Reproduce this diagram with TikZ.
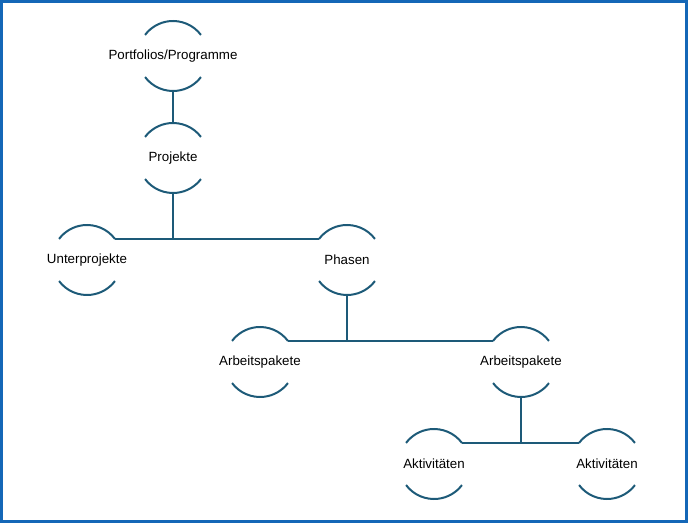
\documentclass[tikz,border=0pt]{standalone}
\usepackage{fontspec}
\setmainfont{Liberation Sans}
\usetikzlibrary{positioning, calc}
\definecolor{mTeal}{HTML}{1D5A78}
\definecolor{mFrame}{HTML}{1467B7}

\begin{document}
\begin{tikzpicture}[x=0.75pt, y=0.75pt,
    level/.style={font=\fontsize{10}{12}\selectfont, inner sep=1pt},
    conn/.style={mTeal, line width=1.5pt}]
  \useasboundingbox (0,0) rectangle (688,-523);
  \draw[mFrame, line width=2.2pt] (1.5,-1.5) rectangle (686.5,-521.5);

  % one row every 102px
  \node[level] (port)  at (173,-56)  {Portfolios/Programme};
  \node[level] (proj)  at (173,-158) {Projekte};
  \node[level] (unter) at (87,-260)  {Unterprojekte};
  \node[level] (phas)  at (347,-260) {Phasen};
  \node[level] (apl)   at (260,-362) {Arbeitspakete};
  \node[level] (apr)   at (521,-362) {Arbeitspakete};
  \node[level] (akl)   at (434,-464) {Aktivitäten};
  \node[level] (akr)   at (607,-464) {Aktivitäten};

  % brackets above and below each label
  \foreach \n in {port, proj, unter, phas, apl, apr, akl, akr} {
    \coordinate (\n-n)  at ($(\n.center)+(90:35)$);
    \coordinate (\n-s)  at ($(\n.center)+(270:35)$);
    \coordinate (\n-ne) at ($(\n.center)+(37:35)$);
    \coordinate (\n-nw) at ($(\n.center)+(143:35)$);
    \draw[conn] (\n-ne) arc (37:143:35);
    \draw[conn] ($(\n.center)+(217:35)$) arc (217:323:35);
  }

  \draw[conn] (port-s) -- (proj-n);
  \foreach \p/\l/\r in {proj/unter/phas, phas/apl/apr, apr/akl/akr} {
    \draw[conn] (\p-s) -- (\p-s |- \l-ne);
    \draw[conn] (\l-ne) -- (\r-nw);
  }
\end{tikzpicture}
\end{document}
